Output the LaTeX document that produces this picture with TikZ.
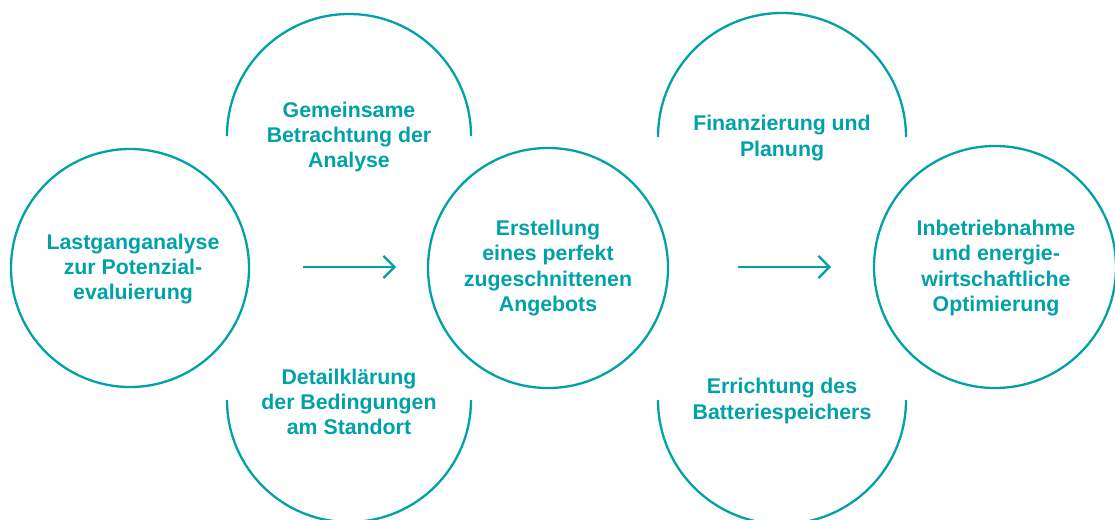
\documentclass[tikz,border=0pt]{standalone}
\usepackage{fontspec}
\setmainfont{Liberation Sans}
\usetikzlibrary{arrows.meta}
\definecolor{teal1}{RGB}{0,162,168}
\tikzset{
  ring/.style={circle, draw=teal1, line width=2.3pt, inner sep=0pt, minimum size=#1},
  arcline/.style={draw=teal1, line width=2.3pt},
  lbl/.style={text=teal1, align=center, font=\fontsize{21.3}{25.3}\selectfont\bfseries, inner sep=0pt},
  flow/.style={draw=teal1, line width=2.3pt, -{Straight Barb[length=11pt,width=22pt,line width=2.3pt]}}
}
\begin{document}
\begin{tikzpicture}[x=1pt,y=1pt]
\useasboundingbox (0,0) rectangle (1115,-519);
% full circles
\node[ring=238] (c1) at (130,-268) {};
\node[lbl] (t1) at (133,-269) {Lastganganalyse\\zur Potenzial-\\evaluierung};
\node[ring=240] (c2) at (548,-268) {};
\node[lbl] (t2) at (548,-268) {Erstellung\\eines perfekt\\zugeschnittenen\\Angebots};
\node[ring=242] (c3) at (995,-267) {};
\node[lbl] (t3) at (996,-268) {Inbetriebnahme\\und energie-\\wirtschaftliche\\Optimierung};
% half arcs
\draw[arcline] (227,-136) arc[start angle=180, end angle=0, radius=122];
\draw[arcline] (227,-400) arc[start angle=180, end angle=360, radius=122];
\draw[arcline] (658,-137) arc[start angle=180, end angle=0, radius=124];
\draw[arcline] (658,-400) arc[start angle=180, end angle=360, radius=124];
% arc labels
\node[lbl] (t4) at (349,-137) {Gemeinsame\\Betrachtung der\\Analyse};
\node[lbl] (t5) at (349,-402) {Detailklärung\\der Bedingungen\\am Standort};
\node[lbl] (t6) at (782,-138) {Finanzierung und\\Planung};
\node[lbl] (t7) at (782,-401) {Errichtung des\\Batteriespeichers};
% arrows
\coordinate (a1s) at (303,-267);
\coordinate (a1e) at (396,-267);
\coordinate (a2s) at (738,-267);
\coordinate (a2e) at (831,-267);
\draw[flow] (a1s) -- (a1e);
\draw[flow] (a2s) -- (a2e);
\end{tikzpicture}
\end{document}
